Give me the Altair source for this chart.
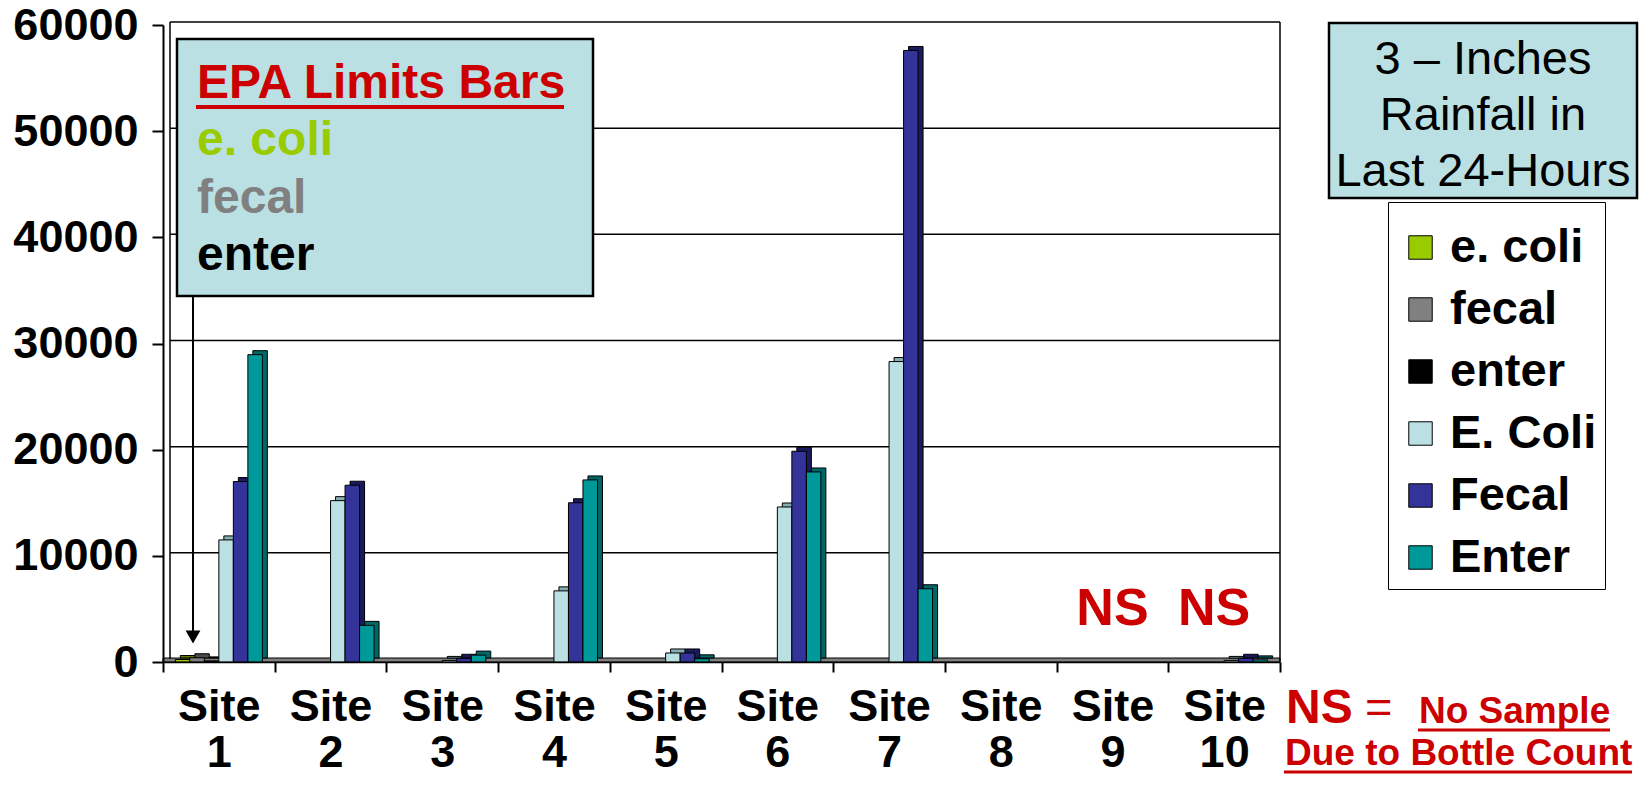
import altair as alt
import pandas as pd

FONT = "Liberation Sans"

sites = [f"Site {i}" for i in range(1, 11)]
series = ["e. coli", "fecal", "enter", "E. Coli", "Fecal", "Enter"]
colors = ["#99CC00", "#808080", "#000000", "#BBE0E3", "#333399", "#009999"]
side_colors = ["#5C7A00", "#4D4D4D", "#000000", "#86AEB1", "#1A1A5C", "#006666"]

# EPA limit bars (only drawn at Site 1)
limit_ecoli = [235, None, None, None, None, None, None, None, None, None]
limit_fecal = [400, None, None, None, None, None, None, None, None, None]
limit_enter = [104, None, None, None, None, None, None, None, None, None]
# Measured counts (None = no sample)
ecoli = [11500, 15200, 150, 6700, 850, 14600, 28300, 0, None, 150]
fecal = [17000, 16650, 350, 15000, 850, 19850, 57600, 0, None, 350]
enter = [28950, 3450, 650, 17150, 300, 17900, 6900, 0, None, 200]

y_ticks = [0, 10000, 20000, 30000, 40000, 50000, 60000]
ns_sites = ["Site 9", "Site 10"]
epa_lines = ["EPA Limits Bars", "e. coli", "fecal", "enter"]
epa_colors = ["#CC0000", "#99CC00", "#808080", "#000000"]
rain_lines = ["3 – Inches", "Rainfall in", "Last 24-Hours"]

W, H = 1117, 637
STEP = W / 10

rows = []
for name, vals in zip(series, [limit_ecoli, limit_fecal, limit_enter, ecoli, fecal, enter]):
    for s, v in zip(sites, vals):
        if v is not None and v > 0:
            rows.append({"site": s, "series": name, "value": v})
df = pd.DataFrame(rows)

yscale = alt.Scale(domain=[0, 60000], nice=False)
xscale = alt.Scale(domain=sites, paddingInner=0, paddingOuter=0)

x_axis = alt.Axis(title=None, labelAngle=0, labelFont=FONT, labelFontSize=45,
                  labelFontWeight="bold", labelColor="black",
                  labelExpr="split(datum.label, ' ')", labelLineHeight=46,
                  labelBaseline="top", labelPadding=12, tickBand="extent",
                  tickSize=10, tickColor="black", tickWidth=2,
                  domainColor="black", domainWidth=1.5, grid=False, zindex=2,
                  labelOverlap=False, labelBound=False, labelFlush=False)
y_axis = alt.Axis(title=None, values=y_ticks, format="d", labelFont=FONT,
                  labelFontSize=45, labelFontWeight="bold", labelColor="black",
                  labelPadding=14, tickSize=11, tickColor="black", tickWidth=2,
                  domainColor="black", domainWidth=2, grid=False, zindex=2)

X = alt.X("site:N", sort=sites, scale=xscale, axis=x_axis)
Y = alt.Y("value:Q", scale=yscale, axis=y_axis)

one = pd.DataFrame({"k": [0]})

# floor of the 3D box
floor = alt.Chart(one).mark_rect(fill="#808080", stroke="black", strokeWidth=1).encode(
    x=alt.value(0), x2=alt.value(W), y=alt.value(H - 4), y2=alt.value(H))

grid = alt.Chart(pd.DataFrame({"value": y_ticks[1:]})).mark_rule(
    color="black", strokeWidth=1.5, yOffset=-3).encode(
    y=Y, x=alt.value(7), x2=alt.value(W))

wall_left = alt.Chart(one).mark_rule(color="black", strokeWidth=1.5).encode(
    x=alt.value(7), y=alt.value(-3), y2=alt.value(H - 3))
wall_right = alt.Chart(one).mark_rule(color="black", strokeWidth=1.5).encode(
    x=alt.value(W), y=alt.value(-3), y2=alt.value(H))

base = alt.Chart(df)

shadow = base.mark_bar(stroke="black", strokeWidth=1, yOffset=-4, y2Offset=-4).encode(
    x=X,
    xOffset=alt.XOffset("series:N", sort=series,
                        scale=alt.Scale(domain=series, paddingInner=0, paddingOuter=0.85,
                                        range=[5, STEP + 5])),
    y=Y,
    fill=alt.Fill("series:N", scale=alt.Scale(domain=series, range=side_colors), legend=None),
)

main = base.mark_bar(stroke="black", strokeWidth=1).encode(
    x=X,
    xOffset=alt.XOffset("series:N", sort=series,
                        scale=alt.Scale(domain=series, paddingInner=0, paddingOuter=0.85)),
    y=Y,
    color=alt.Color("series:N", sort=series,
                    scale=alt.Scale(domain=series, range=colors),
                    legend=alt.Legend(title=" ", titleFontSize=14, titlePadding=0,
                                      orient="none", legendX=1225, legendY=177,
                                      symbolType="square", symbolSize=550,
                                      symbolStrokeColor="black", symbolStrokeWidth=1,
                                      labelFont=FONT, labelFontSize=47,
                                      labelFontWeight="bold", labelColor="black",
                                      rowPadding=14, padding=8, symbolOffset=1,
                                      labelOffset=6, fillColor="white",
                                      strokeColor="black", labelLimit=0)),
)

bars = alt.layer(shadow, main).resolve_scale(xOffset="independent", fill="independent")

# EPA limits box
epa_box = alt.Chart(one).mark_rect(fill="#BBE0E3", stroke="black", strokeWidth=2.5).encode(
    x=alt.value(14), x2=alt.value(430), y=alt.value(14), y2=alt.value(271))
epa_texts = []
for i, (t, c) in enumerate(zip(epa_lines, epa_colors)):
    epa_texts.append(alt.Chart(one).mark_text(
        text=t, font=FONT, fontSize=48, fontWeight="bold", color=c,
        align="left", baseline="alphabetic").encode(
        x=alt.value(34), y=alt.value([73, 130, 188, 245][i])))
epa_underline = alt.Chart(one).mark_rule(color="#CC0000", strokeWidth=4).encode(
    x=alt.value(33), x2=alt.value(401), y=alt.value(82))
arrow_line = alt.Chart(one).mark_rule(color="black", strokeWidth=2).encode(
    x=alt.value(30), y=alt.value(271), y2=alt.value(606))
arrow_head = alt.Chart(one).mark_point(shape="triangle-down", filled=True, color="black",
                                       size=220, opacity=1).encode(
    x=alt.value(30), y=alt.value(612))

# Rainfall box
rain_box = alt.Chart(one).mark_rect(fill="#BBE0E3", stroke="black", strokeWidth=2.5).encode(
    x=alt.value(1166), x2=alt.value(1474), y=alt.value(-2), y2=alt.value(173))
rain_text = alt.Chart(one).mark_text(
    text=rain_lines, font=FONT, fontSize=47, color="black", align="center",
    baseline="alphabetic", lineHeight=56).encode(
    x=alt.value(1320), y=alt.value(49))

# NS markers
ns_layers = []
for s, shift in zip(ns_sites, [0, -10]):
    ns_layers.append(alt.Chart(pd.DataFrame({"site": [s]})).mark_text(
        text="NS", font=FONT, fontSize=52, fontWeight="bold", color="#CC0000",
        align="center", baseline="alphabetic", dx=shift).encode(x=X, y=alt.value(600)))

ns_key = alt.Chart(one).mark_text(
    text="NS", font=FONT, fontSize=48, fontWeight="bold", color="#CC0000",
    align="left", baseline="alphabetic").encode(x=alt.value(1123), y=alt.value(698))
eq_key = alt.Chart(one).mark_text(
    text="=", font=FONT, fontSize=47, color="#CC0000",
    align="left", baseline="alphabetic").encode(x=alt.value(1202), y=alt.value(698))
no_sample = alt.Chart(one).mark_text(
    text="No Sample", font=FONT, fontSize=37, fontWeight="bold", color="#CC0000",
    align="left", baseline="alphabetic").encode(x=alt.value(1256), y=alt.value(698))
no_sample_ul = alt.Chart(one).mark_rule(color="#CC0000", strokeWidth=3).encode(
    x=alt.value(1255), x2=alt.value(1447), y=alt.value(705))
bottle = alt.Chart(one).mark_text(
    text="Due to Bottle Count", font=FONT, fontSize=37, fontWeight="bold", color="#CC0000",
    align="left", baseline="alphabetic").encode(x=alt.value(1122), y=alt.value(740))
bottle_ul = alt.Chart(one).mark_rule(color="#CC0000", strokeWidth=3).encode(
    x=alt.value(1121), x2=alt.value(1469), y=alt.value(747))

chart = alt.layer(
    floor, grid, wall_left, wall_right, bars,
    epa_box, *epa_texts, epa_underline, arrow_line, arrow_head,
    rain_box, rain_text, *ns_layers, ns_key, eq_key, no_sample, no_sample_ul, bottle, bottle_ul,
).properties(
    width=W, height=H,
    autosize=alt.AutoSizeParams(type="none"),
    padding={"left": 155, "top": 17, "right": 363, "bottom": 117},
).configure(font=FONT, background="white").configure_view(stroke=None)

chart.save("out.html", embed_options={"renderer": "svg", "actions": False})
